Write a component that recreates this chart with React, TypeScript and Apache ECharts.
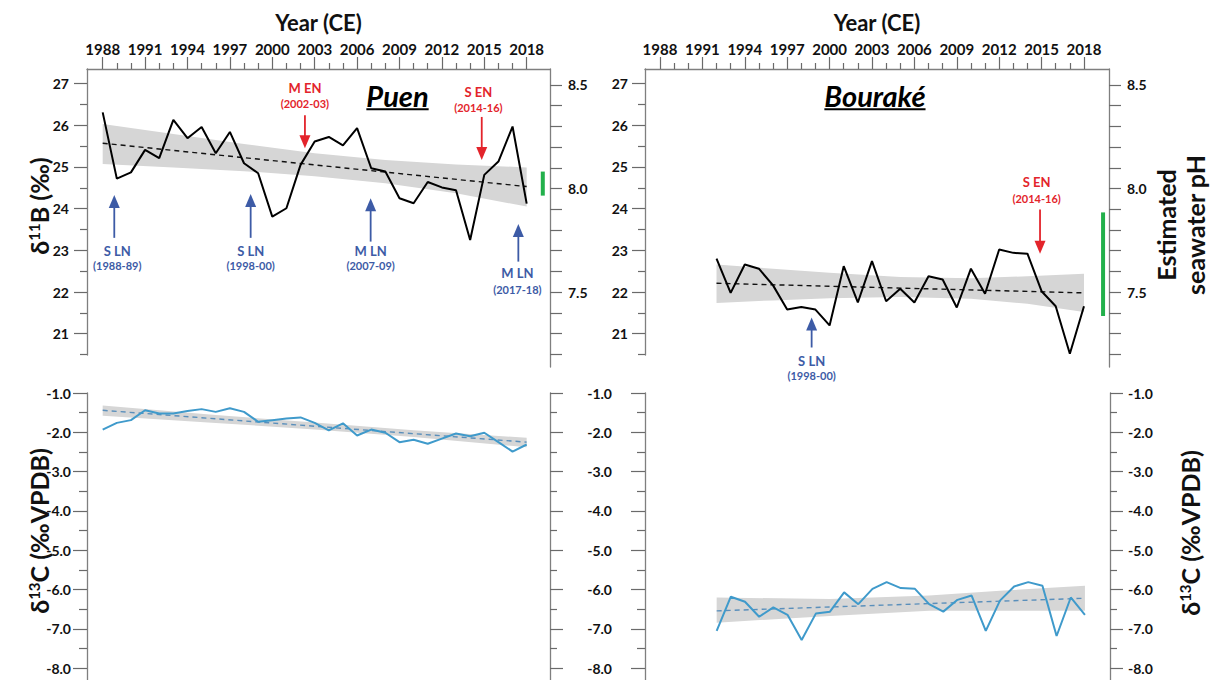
import React, { useEffect, useRef } from "react";
import * as echarts from "echarts";

// ---------- data ----------
const puenYears = [1988, 1989, 1990, 1991, 1992, 1993, 1994, 1995, 1996, 1997, 1998, 1999, 2000, 2001, 2002, 2003, 2004, 2005, 2006, 2007, 2008, 2009, 2010, 2011, 2012, 2013, 2014, 2015, 2016, 2017, 2018];
const bourYears = [1992, 1993, 1994, 1995, 1996, 1997, 1998, 1999, 2000, 2001, 2002, 2003, 2004, 2005, 2006, 2007, 2008, 2009, 2010, 2011, 2012, 2013, 2014, 2015, 2016, 2017, 2018];

const puenD11B = [26.31, 24.72, 24.87, 25.41, 25.21, 26.13, 25.69, 25.96, 25.33, 25.84, 25.09, 24.85, 23.81, 24.01, 25.05, 25.61, 25.72, 25.52, 25.93, 24.97, 24.89, 24.25, 24.13, 24.64, 24.51, 24.44, 23.25, 24.81, 25.13, 25.97, 24.12];
const bourD11B = [22.8, 21.98, 22.66, 22.56, 22.16, 21.58, 21.64, 21.58, 21.2, 22.62, 21.75, 22.74, 21.78, 22.08, 21.75, 22.38, 22.3, 21.63, 22.56, 21.96, 23.02, 22.94, 22.92, 22.02, 21.66, 20.52, 21.66];
const puenD13C = [-1.93, -1.76, -1.69, -1.44, -1.52, -1.52, -1.46, -1.41, -1.48, -1.39, -1.48, -1.73, -1.69, -1.65, -1.62, -1.76, -1.95, -1.77, -2.08, -1.93, -2.01, -2.25, -2.19, -2.29, -2.16, -2.03, -2.1, -2.01, -2.25, -2.49, -2.31];
const bourD13C = [-7.05, -6.18, -6.31, -6.69, -6.45, -6.64, -7.28, -6.61, -6.56, -6.07, -6.37, -5.98, -5.81, -5.96, -5.98, -6.37, -6.56, -6.26, -6.15, -7.05, -6.28, -5.92, -5.81, -5.9, -7.18, -6.2, -6.64];

// regression trends and confidence bands
const trendYearsPuen = [1988, 2018];
const trendYearsBour = [1992, 2018];
const puenD11BTrend = [25.57, 24.53];
const bourD11BTrend = [22.21, 21.98];
const puenD13CTrend = [-1.44, -2.25];
const bourD13CTrend = [-6.54, -6.22];

const puenD11BBandYears = [1988, 1993, 1998, 2003, 2008, 2013, 2018];
const puenD11BUpper = [26.03, 25.79, 25.55, 25.33, 25.17, 25.06, 24.99];
const puenD11BLower = [25.07, 24.99, 24.9, 24.78, 24.61, 24.37, 24.05];

const bourD11BBandYears = [1992, 1996, 2000, 2005, 2010, 2014, 2018];
const bourD11BUpper = [22.66, 22.56, 22.46, 22.36, 22.33, 22.38, 22.44];
const bourD11BLower = [21.74, 21.8, 21.85, 21.88, 21.84, 21.72, 21.52];

const puenD13CBandYears = [1988, 1996, 2003, 2010, 2018];
const puenD13CUpper = [-1.32, -1.56, -1.75, -1.95, -2.14];
const puenD13CLower = [-1.58, -1.76, -1.93, -2.12, -2.38];

const bourD13CBandYears = [1992, 2000, 2007, 2012, 2018];
const bourD13CUpper = [-6.2, -6.24, -6.15, -6.03, -5.9];
const bourD13CLower = [-6.84, -6.67, -6.54, -6.54, -6.54];

// estimated seawater pH ranges (green bars)
const puenPhRangeYear = 2019.14;
const puenPhRange = [7.966, 8.082];
const bourPhRangeYear = 2019.35;
const bourPhRange = [7.385, 7.885];

// tick values
const yearMajor = [1988, 1991, 1994, 1997, 2000, 2003, 2006, 2009, 2012, 2015, 2018];
const yearMinor = [1989, 1990, 1992, 1993, 1995, 1996, 1998, 1999, 2001, 2002, 2004, 2005, 2007, 2008, 2010, 2011, 2013, 2014, 2016, 2017];
const d11BMajor = [21, 22, 23, 24, 25, 26, 27];
const d11BMinor = [20.5, 21.5, 22.5, 23.5, 24.5, 25.5, 26.5];
const phTicks = [7.2, 7.3, 7.4, 7.5, 7.6, 7.7, 7.8, 7.9, 8.0, 8.1, 8.2, 8.3, 8.4, 8.5];
const phLabels = [7.5, 8.0, 8.5];
const d13CMajor = [-8, -7, -6, -5, -4, -3, -2, -1];
const d13CMinor = [-7.5, -6.5, -5.5, -4.5, -3.5, -2.5, -1.5];

// ENSO event annotations (data coordinates)
const puenEvents = [
  { t1: "M EN", t2: "(2002-03)", x: 2002.31, tx: 2002.31, y1: 26.89, y2: 26.53, tail: 26.24, tip: 25.45, kind: "EN" },
  { t1: "S EN", t2: "(2014-16)", x: 2014.82, tx: 2014.58, y1: 26.8, y2: 26.43, tail: 26.2, tip: 25.17, kind: "EN" },
  { t1: "S LN", t2: "(1988-89)", x: 1988.82, tx: 1989.03, y1: 22.99, y2: 22.63, tail: 23.3, tip: 24.33, kind: "LN" },
  { t1: "S LN", t2: "(1998-00)", x: 1998.47, tx: 1998.47, y1: 22.99, y2: 22.63, tail: 23.3, tip: 24.35, kind: "LN" },
  { t1: "M LN", t2: "(2007-09)", x: 2006.96, tx: 2006.96, y1: 22.99, y2: 22.63, tail: 23.21, tip: 24.25, kind: "LN" },
  { t1: "M LN", t2: "(2017-18)", x: 2017.41, tx: 2017.34, y1: 22.45, y2: 22.07, tail: 22.73, tip: 23.63, kind: "LN" },
];
const bourEvents = [
  { t1: "S EN", t2: "(2014-16)", x: 2014.89, tx: 2014.65, y1: 24.63, y2: 24.24, tail: 23.98, tip: 22.92, kind: "EN" },
  { t1: "S LN", t2: "(1998-00)", x: 1998.73, tx: 1998.73, y1: 20.34, y2: 20.0, tail: 20.67, tip: 21.39, kind: "LN" },
];
const siteTitles = [
  { text: "Puen", x: 2008.86, y: 26.72, grid: 0 },
  { text: "Bouraké", x: 2003.21, y: 26.72, grid: 1 },
];

// ---------- styles ----------
const FONT = "Lato, 'Open Sans', sans-serif";
const AXC = "#7f7f7f";
const TXT = "#111111";
const RED = "#e3242b";
const BLUE = "#3d5ba6";
const GREEN = "#22b04b";
const BAND = "#d6d6d6";
const CLINE = "#3f9acb";
const CTREND = "#5a8fbb";

const axLine = { show: true, onZero: false, lineStyle: { color: AXC, width: 1.3 } };
const noLine = { show: false };
const lbl = (size: number, margin: number, vals: number[], fmt?: (v: number) => string) => ({
  show: vals.length > 0,
  customValues: vals,
  fontFamily: FONT,
  fontWeight: "bold",
  fontSize: size,
  color: TXT,
  margin,
  formatter: fmt || ((v: number) => String(v)),
});
const tick = (len: number, vals: number[]) => ({ show: true, length: len, customValues: vals, lineStyle: { color: "#6a6a6a", width: 1.2 } });

const pts = (xs: number[], ys: number[]) => xs.map((x, i) => [x, ys[i]]);

function bandSeries(xi: number, yi: number, xs: number[], lo: number[], hi: number[]) {
  return {
    type: "custom",
    xAxisIndex: xi,
    yAxisIndex: yi,
    silent: true,
    z: 1,
    data: xs.map((x, i) => [x, lo[i], hi[i]]),
    encode: { x: 0, y: [1, 2] },
    renderItem: (params: any, api: any) => {
      if (params.dataIndex !== 0) return null;
      const top = xs.map((x, i) => api.coord([x, hi[i]]));
      const bot = xs.map((x, i) => api.coord([x, lo[i]])).reverse();
      return { type: "polygon", shape: { points: [...top, ...bot] }, style: { fill: BAND } };
    },
  };
}
function trendSeries(xi: number, yi: number, xs: number[], ys: number[], color: string) {
  return { type: "line", xAxisIndex: xi, yAxisIndex: yi, data: pts(xs, ys), symbol: "none", lineStyle: { color, width: 1.4, type: [5, 4] }, z: 3 };
}
function dataSeries(xi: number, yi: number, xs: number[], ys: number[], color: string) {
  return { type: "line", xAxisIndex: xi, yAxisIndex: yi, data: pts(xs, ys), symbol: "none", lineStyle: { color, width: 2 }, z: 4 };
}
function phBar(xi: number, yi: number, x: number, r: number[]) {
  return { type: "line", xAxisIndex: xi, yAxisIndex: yi, data: [[x, r[0]], [x, r[1]]], symbol: "none", lineStyle: { color: GREEN, width: 4, cap: "butt" }, z: 4 };
}

const X_TL = { min: 1986.89, max: 2019.65 };
const X_TR = { min: 1986.94, max: 2019.77 };
const Y_B = { min: 20.49, max: 27.35 };
const Y_PH = { min: 7.139, max: 8.577 };
const Y_C = { min: -8.4, max: -1.0 };

function topX(grid: number, r: { min: number; max: number }) {
  return [
    {
      gridIndex: grid, type: "value", position: "top", ...r, axisLine: axLine,
      axisTick: tick(12, yearMajor), axisLabel: lbl(15, 13, yearMajor), splitLine: { show: false },
      name: "Year (CE)", nameLocation: "middle", nameGap: 36, nameMoveOverlap: false,
      nameTextStyle: { fontFamily: FONT, fontWeight: "bold", fontSize: 22, color: TXT },
    },
    {
      gridIndex: grid, type: "value", position: "top", ...r, axisLine: noLine,
      axisTick: tick(6, yearMinor), axisLabel: { show: false }, splitLine: { show: false },
    },
  ];
}
const hiddenX = (grid: number, r: { min: number; max: number }) => ({ gridIndex: grid, type: "value", ...r, show: false });

function yPair(grid: number, pos: string, r: { min: number; max: number }, major: number[], minor: number[], labels: number[], margin: number, lenMaj: number, lenMin: number, fmt?: (v: number) => string) {
  return [
    {
      gridIndex: grid, type: "value", position: pos, ...r, axisLine: axLine,
      axisTick: tick(lenMaj, major), axisLabel: lbl(14, margin, labels, fmt), splitLine: { show: false },
    },
    {
      gridIndex: grid, type: "value", position: pos, ...r, axisLine: noLine,
      axisTick: tick(lenMin, minor), axisLabel: { show: false }, splitLine: { show: false },
    },
  ];
}

function buildOption(): any {
  const f1 = (v: number) => v.toFixed(1);
  const gridBase = { containLabel: false, outerBoundsMode: "none", show: false };
  return {
    animation: false,
    backgroundColor: "#ffffff",
    grid: [
      { ...gridBase, left: 87, top: 69, width: 463, height: 286 },
      { ...gridBase, left: 87, top: 69, width: 463, height: 298 },
      { ...gridBase, left: 645, top: 69, width: 464, height: 286 },
      { ...gridBase, left: 645, top: 69, width: 464, height: 298 },
      { ...gridBase, left: 87, top: 393, width: 463, height: 291 },
      { ...gridBase, left: 645, top: 393, width: 465, height: 291 },
    ],
    xAxis: [
      ...topX(0, X_TL), // 0,1
      hiddenX(1, X_TL), // 2
      ...topX(2, X_TR), // 3,4
      hiddenX(3, X_TR), // 5
      hiddenX(4, X_TL), // 6
      hiddenX(5, X_TR), // 7
    ],
    yAxis: [
      ...yPair(0, "left", Y_B, d11BMajor, d11BMinor, d11BMajor, 18, 13, 7), // 0,1
      {
        gridIndex: 1, type: "value", position: "right", ...Y_PH, axisLine: axLine,
        axisTick: tick(12, phTicks), axisLabel: lbl(14, 18, phLabels, f1), splitLine: { show: false },
      }, // 2
      ...yPair(2, "left", Y_B, d11BMajor, d11BMinor, d11BMajor, 17, 13, 7), // 3,4
      {
        gridIndex: 3, type: "value", position: "right", ...Y_PH, axisLine: axLine,
        axisTick: tick(12, phTicks), axisLabel: lbl(14, 18, phLabels, f1), splitLine: { show: false },
      }, // 5
      ...yPair(4, "left", Y_C, d13CMajor, d13CMinor, d13CMajor, 16, 14, 8, f1), // 6,7
      ...yPair(4, "right", Y_C, d13CMajor, d13CMinor, [], 33, 13, 7, f1), // 8,9
      ...yPair(5, "left", Y_C, d13CMajor, d13CMinor, d13CMajor, 33, 14, 8, f1), // 10,11
      ...yPair(5, "right", Y_C, d13CMajor, d13CMinor, d13CMajor, 18, 13, 7, f1), // 12,13
    ],
    series: [
      bandSeries(0, 0, puenD11BBandYears, puenD11BLower, puenD11BUpper),
      trendSeries(0, 0, trendYearsPuen, puenD11BTrend, "#111"),
      dataSeries(0, 0, puenYears, puenD11B, "#000"),
      phBar(2, 2, puenPhRangeYear, puenPhRange),

      bandSeries(3, 3, bourD11BBandYears, bourD11BLower, bourD11BUpper),
      trendSeries(3, 3, trendYearsBour, bourD11BTrend, "#111"),
      dataSeries(3, 3, bourYears, bourD11B, "#000"),
      phBar(5, 5, bourPhRangeYear, bourPhRange),

      bandSeries(6, 6, puenD13CBandYears, puenD13CLower, puenD13CUpper),
      trendSeries(6, 6, trendYearsPuen, puenD13CTrend, CTREND),
      dataSeries(6, 6, puenYears, puenD13C, CLINE),

      bandSeries(7, 10, bourD13CBandYears, bourD13CLower, bourD13CUpper),
      trendSeries(7, 10, trendYearsBour, bourD13CTrend, CTREND),
      dataSeries(7, 10, bourYears, bourD13C, CLINE),
    ],
  };
}

function measure(text: string, font: string) {
  const c = document.createElement("canvas").getContext("2d");
  if (!c) return text.length * 12;
  c.font = font;
  return c.measureText(text).width;
}

function buildGraphic(chart: any) {
  const els: any[] = [];
  const conv = (xi: number, yi: number, p: number[]) => chart.convertToPixel({ xAxisIndex: xi, yAxisIndex: yi }, p) as number[];

  const addEvents = (xi: number, yi: number, evs: typeof puenEvents) => {
    evs.forEach((e) => {
      const color = e.kind === "EN" ? RED : BLUE;
      const a = conv(xi, yi, [e.x, e.tail]);
      const b = conv(xi, yi, [e.x, e.tip]);
      const dir = b[1] > a[1] ? 1 : -1;
      const hl = 13, hw = 5.5;
      els.push({ type: "line", z: 100, shape: { x1: a[0], y1: a[1], x2: b[0], y2: b[1] - dir * (hl - 2) }, style: { stroke: color, lineWidth: 1.8 } });
      els.push({ type: "polygon", z: 100, shape: { points: [[b[0], b[1]], [b[0] - hw, b[1] - dir * hl], [b[0] + hw, b[1] - dir * hl]] }, style: { fill: color } });
      const p1 = conv(xi, yi, [e.tx, e.y1]);
      const p2 = conv(xi, yi, [e.tx, e.y2]);
      els.push({ type: "text", z: 100, x: p1[0], y: p1[1], style: { text: e.t1, fill: color, fontFamily: FONT, fontWeight: "bold", fontSize: 13, textAlign: "center", textVerticalAlign: "middle" } });
      els.push({ type: "text", z: 100, x: p2[0], y: p2[1], style: { text: e.t2, fill: color, fontFamily: FONT, fontWeight: "bold", fontSize: 11, textAlign: "center", textVerticalAlign: "middle" } });
    });
  };
  addEvents(0, 0, puenEvents);
  addEvents(3, 3, bourEvents);

  siteTitles.forEach((t) => {
    const p = t.grid === 0 ? conv(0, 0, [t.x, t.y]) : conv(3, 3, [t.x, t.y]);
    const fs = 29;
    const w = measure(t.text, `italic bold ${fs}px Lato`);
    els.push({ type: "text", z: 100, x: p[0], y: p[1], style: { text: t.text, fill: "#000", fontFamily: FONT, fontStyle: "italic", fontWeight: "bold", fontSize: fs, textAlign: "center", textVerticalAlign: "middle" } });
    els.push({ type: "line", z: 100, shape: { x1: p[0] - w / 2, y1: p[1] + 14, x2: p[0] + w / 2, y2: p[1] + 14 }, style: { stroke: "#000", lineWidth: 1.8 } });
  });

  const titleStyle = (text: string) => ({
    text,
    fill: TXT,
    textAlign: "center",
    textVerticalAlign: "middle",
    rich: {
      m: { fontFamily: FONT, fontWeight: "bold", fontSize: 25, color: TXT },
      s: { fontFamily: FONT, fontWeight: "bold", fontSize: 15, color: TXT, verticalAlign: "top", padding: [0, 0, 8, 0] },
    },
  });
  const rot = Math.PI / 2;
  els.push({ type: "text", x: 39, y: 206, rotation: rot, style: titleStyle("{m|δ}{s|11}{m|B (‰)}") });
  els.push({ type: "text", x: 39, y: 531, rotation: rot, style: titleStyle("{m|δ}{s|13}{m|C (‰VPDB)}") });
  els.push({ type: "text", x: 1190, y: 533, rotation: rot, style: titleStyle("{m|δ}{s|13}{m|C (‰VPDB)}") });
  const plain = (text: string) => ({ text, fill: TXT, fontFamily: FONT, fontWeight: "bold", fontSize: 25, textAlign: "center", textVerticalAlign: "middle" });
  els.push({ type: "text", x: 1166, y: 225, rotation: rot, style: plain("Estimated") });
  els.push({ type: "text", x: 1195, y: 225, rotation: rot, style: plain("seawater pH") });
  return els;
}

export default function App() {
  const ref = useRef<HTMLDivElement>(null);
  useEffect(() => {
    if (!ref.current) return;
    const chart = echarts.init(ref.current, null, { renderer: "svg" });
    chart.setOption(buildOption());
    chart.setOption({ graphic: buildGraphic(chart) });
    return () => chart.dispose();
  }, []);
  return <div ref={ref} style={{ position: "absolute", left: 0, top: 0, width: 1210, height: 680, background: "#fff" }} />;
}
